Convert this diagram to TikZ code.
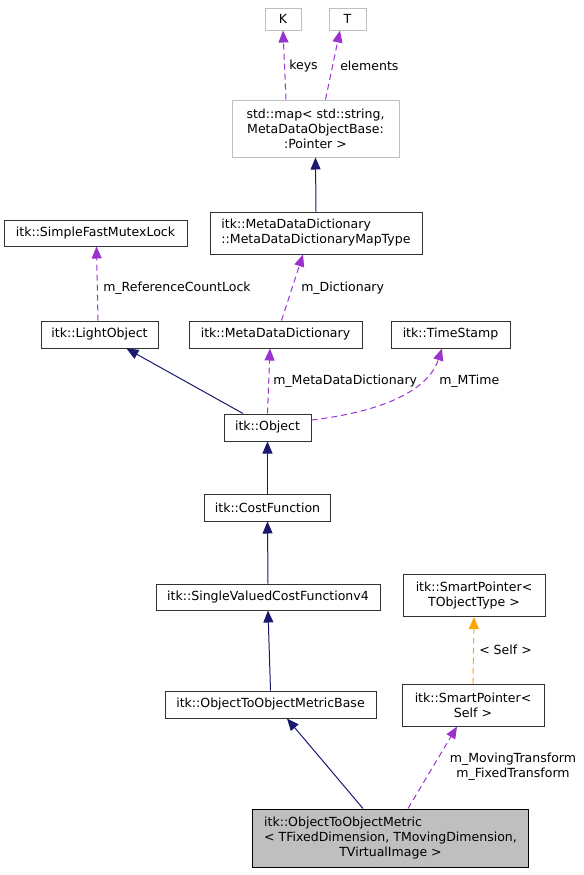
\documentclass[tikz,border=0pt]{standalone}
\usepackage{fontspec}
\setmainfont{DejaVu Sans}
\usetikzlibrary{arrows.meta,calc}
\definecolor{inhblue}{HTML}{191970}
\definecolor{usepurple}{HTML}{9A32CD}
\definecolor{tmplorange}{HTML}{FFA500}
\definecolor{boxgray}{HTML}{BFBFBF}
\begin{document}
\begin{tikzpicture}[x=0.75pt, y=-0.75pt,
    every node/.style={font=\fontsize{9.4pt}{11.25pt}\selectfont},
    wh/.style 2 args={minimum width=#1*0.75pt, minimum height=#2*0.75pt},
    cls/.style={draw=black!80, line width=0.75pt, inner sep=0pt, align=center},
    ext/.style={cls, draw=boxgray},
    inh/.style={draw=inhblue, line width=0.75pt, -{Triangle[length=9pt,width=7.5pt]}},
    use/.style={draw=usepurple, line width=0.75pt, dash pattern=on 4.5pt off 3pt,
        -{Triangle[length=9pt,width=7.5pt,fill=usepurple]}},
    tmpl/.style={use, draw=tmplorange, -{Triangle[length=9pt,width=7.5pt,fill=tmplorange]}},
    lbl/.style={inner sep=0pt, anchor=west}]
    \useasboundingbox (0,0) rectangle (584,875);
    % classes
    \node[ext, wh={36}{22}] (K) at (283,19) {K};
    \node[ext, wh={37}{22}] (T) at (347.5,19) {T};
    \node[ext, wh={167}{57}] (map) at (315.5,128.5) {std::map< std::string,\\ MetaDataObjectBase:\\:Pointer >};
    \node[cls, wh={212}{42}, align=left] (maptype) at (316,233) {itk::MetaDataDictionary\\::MetaDataDictionaryMapType};
    \node[cls, wh={183}{26}] (mutex) at (95.5,233) {itk::SimpleFastMutexLock};
    \node[cls, wh={117}{27}] (light) at (99.5,334.5) {itk::LightObject};
    \node[cls, wh={173}{27}] (mdd) at (275.5,334.5) {itk::MetaDataDictionary};
    \node[cls, wh={119}{27}] (ts) at (450.5,334.5) {itk::TimeStamp};
    \node[cls, wh={87}{27}] (obj) at (267.5,427.5) {itk::Object};
    \node[cls, wh={126}{27}] (cost) at (267.5,507.5) {itk::CostFunction};
    \node[cls, wh={224}{26}] (svcf) at (268,597) {itk::SingleValuedCostFunctionv4};
    \node[cls, wh={211}{27}] (base) at (270.5,704.5) {itk::ObjectToObjectMetricBase};
    \node[cls, wh={142}{42}] (spT) at (474,595.5) {itk::SmartPointer<\\ TObjectType >};
    \node[cls, wh={142}{42}] (spS) at (473,705) {itk::SmartPointer<\\ Self >};
    \node[cls, wh={276}{58}, fill=boxgray, draw=black] (main) at (390.5,838)
        {\rlap{itk::ObjectToObjectMetric}\phantom{< TFixedDimension, TMovingDimension,}\\
         < TFixedDimension, TMovingDimension,\\ TVirtualImage >};
    % inheritance
    \draw[inh] (maptype.north) -- (map.south);
    \draw[inh] ($(obj.north)+(-24.5,0)$) -- ($(light.south)+(27,0)$);
    \foreach \lower/\upper in {cost/obj, svcf/cost, base/svcf}
        \draw[inh] (\lower.north) -- (\upper.south);
    \draw[inh] ($(main.north)+(-27.5,0)$) -- ($(base.south)+(16.5,0)$);
    % members
    \draw[use] ($(map.north)+(-29.5,0)$) -- (K.south);
    \node[lbl] at (289,66) {keys};
    \draw[use] ($(map.north)+(10,0)$) -- ($(T.south)+(-7.5,0)$);
    \node[lbl] at (340,66) {elements};
    \draw[use] ($(mdd.north)+(6,0)$) -- ($(maptype.south)+(-13,0)$);
    \node[lbl] at (301,288) {m\_Dictionary};
    \draw[use] ($(light.north)+(-1.5,0)$) -- ($(mutex.south)+(1,0)$);
    \node[lbl] at (103,288) {m\_ReferenceCountLock};
    \draw[use] (obj.north) -- ($(mdd.south)+(-5.5,0)$);
    \node[lbl] at (273,381) {m\_MetaDataDictionary};
    \draw[use] ($(obj.east)+(0,-7.5)$) .. controls (395,410) and (430,385) .. ($(ts.south)+(-8.5,0)$);
    \node[lbl] at (439,381) {m\_MTime};
    \draw[use] ($(main.north)+(17.5,0)$) -- ($(spS.south)+(-16,0)$);
    \node[align=center, inner sep=0pt] at (513,767) {m\_MovingTransform\\m\_FixedTransform};
    \draw[tmpl] (spS.north) -- (spT.south);
    \node[lbl] at (479,650) {< Self >};
\end{tikzpicture}
\end{document}
